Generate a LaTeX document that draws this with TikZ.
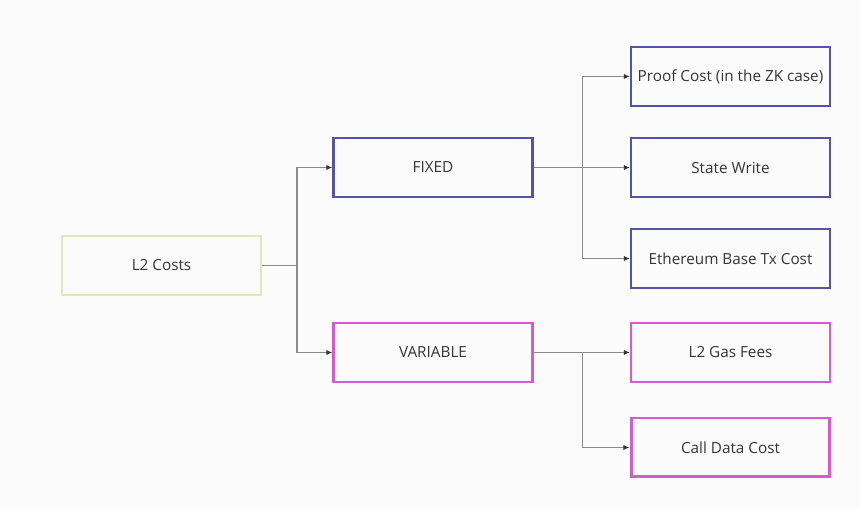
\documentclass[tikz,border=0pt]{standalone}
\usepackage{fontspec}
\setmainfont{Open Sans}
\usetikzlibrary{arrows.meta}
\definecolor{bg}{HTML}{FBFBFB}
\definecolor{fixedc}{HTML}{5553A3}
\definecolor{varc}{HTML}{D65AD0}
\definecolor{rootc}{HTML}{E3E7B6}
\definecolor{wire}{HTML}{8A8A8A}
\definecolor{ink}{HTML}{353535}
\tikzset{
  box/.style={draw, line width=1.2pt, minimum width=3.98cm, minimum height=1.18cm, inner sep=0pt, text=ink, font=\fontsize{8.7}{10}\selectfont},
  root/.style={box, draw=rootc},
  fix/.style={box, draw=fixedc},
  var/.style={box, draw=varc},
  link/.style={draw=wire, line width=0.7pt},
  arr/.style={link, -{Latex[length=3.5pt,width=3pt,color=ink]}},
}
\begin{document}
\begin{tikzpicture}[x=0.02cm, y=-0.02cm]
  \fill[bg] (0,0) rectangle (860,509);
  \useasboundingbox (0,0) rectangle (860,509);
  \node[root] (costs) at (161.5,265.5) {L2 Costs};
  \node[fix] (fixed) at (433,167.5) {FIXED};
  \node[var] (variable) at (433,352.5) {VARIABLE};
  \node[fix] (proof) at (730.5,76.5) {Proof Cost (in the ZK case)};
  \node[fix] (state) at (730.5,167.5) {State Write};
  \node[fix] (base) at (730.5,258.5) {Ethereum Base Tx Cost};
  \node[var] (gas) at (730.5,352.5) {L2 Gas Fees};
  \node[var, line width=1.7pt] (calldata) at (730.5,447.5) {Call Data Cost};
  % first split
  \draw[link] (costs.east) -- ++(35,0) coordinate (j1);
  \draw[arr] (j1) |- (fixed.west);
  \draw[arr] (j1) |- (variable.west);
  % fixed costs
  \draw[link] (fixed.east) -- ++(49,0) coordinate (j2);
  \draw[arr] (j2) |- (proof.west);
  \draw[arr] (j2) -- (state.west);
  \draw[arr] (j2) |- (base.west);
  % variable costs
  \draw[link] (variable.east) -- ++(49,0) coordinate (j3);
  \draw[arr] (j3) -- (gas.west);
  \draw[arr] (j3) |- (calldata.west);
\end{tikzpicture}
\end{document}
